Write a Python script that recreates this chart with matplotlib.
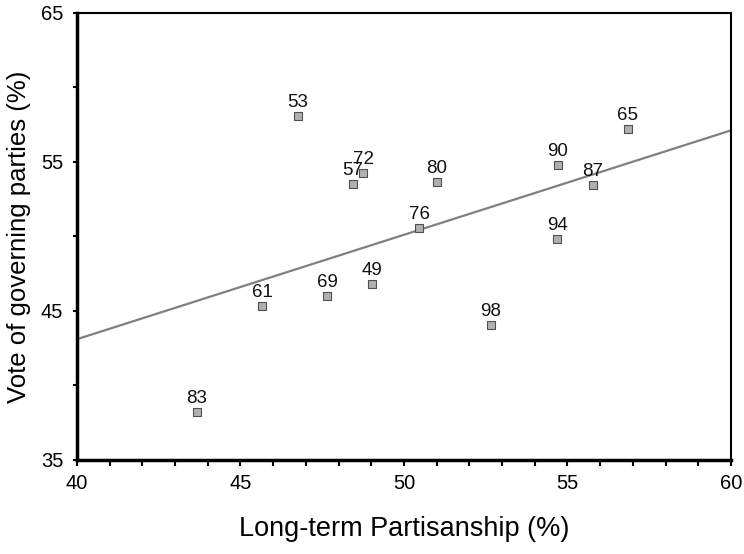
import numpy as np
import matplotlib
matplotlib.use("Agg")
from matplotlib import pyplot as plt
from matplotlib.ticker import MultipleLocator

plt.rcParams['font.family'] = ['Liberation Sans', 'DejaVu Sans']

# election years and their values
years = ["53", "72", "57", "80", "76", "49", "69", "61", "83", "98", "94", "90", "87", "65"]
partisanship = [46.76, 48.75, 48.44, 51.01, 50.46, 49.02, 47.65, 45.66, 43.67, 52.66, 54.68, 54.71, 55.78, 56.85]
vote = [58.09, 54.26, 53.52, 53.66, 50.57, 46.81, 46.01, 45.34, 38.22, 44.06, 49.83, 54.80, 53.46, 57.21]

x_ticks = [40, 45, 50, 55, 60]
y_ticks = [35, 45, 55, 65]

fig = plt.figure(figsize=(7.44, 5.54), dpi=100)
ax = fig.add_axes([0.1035, 0.1697, 0.879, 0.807])

# fitted line
slope, icpt = np.polyfit(partisanship, vote, 1)
xs = np.array([40, 60])
ax.plot(xs, icpt + slope * xs, color="#808080", lw=1.6, zorder=2)

ax.scatter(partisanship, vote, marker="s", s=30, facecolor="#b0b0b0",
           edgecolor="#505050", linewidths=0.8, zorder=3)
for lab, x, y in zip(years, partisanship, vote):
    ax.annotate(lab, (x, y), xytext=(0, 3.5), textcoords="offset points",
                ha="center", va="bottom", fontsize=13.5, color="#111111")

ax.set_xlim(40, 60)
ax.set_ylim(35, 65)
ax.set_xticks(x_ticks)
ax.set_yticks(y_ticks)
ax.xaxis.set_minor_locator(MultipleLocator(1))
ax.yaxis.set_minor_locator(MultipleLocator(5))
ax.tick_params(axis="x", which="both", direction="out", length=4, width=1.5, pad=6, labelsize=14.5)
ax.tick_params(axis="y", which="both", direction="out", length=3, width=1.5, pad=7, labelsize=14.5)

for side in ["left", "bottom"]:
    ax.spines[side].set_linewidth(2.5)
for side in ["top", "right"]:
    ax.spines[side].set_linewidth(1.5)

ax.set_xlabel("Long-term Partisanship (%)", fontsize=19.5, labelpad=17)
ax.set_ylabel("Vote of governing parties (%)", fontsize=18.5, labelpad=7)

plt.savefig("out.png", dpi=100)
